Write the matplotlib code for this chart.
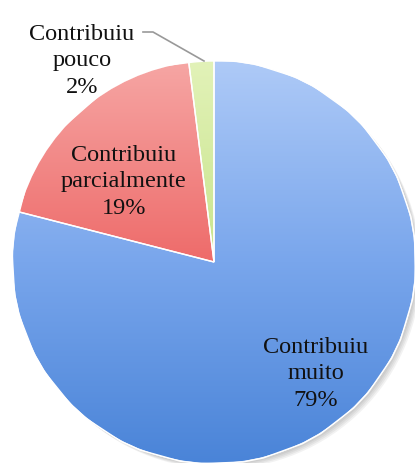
import numpy as np
import matplotlib.pyplot as plt
from matplotlib.colors import LinearSegmentedColormap

labels = ['Contribuiu\nmuito', 'Contribuiu\nparcialmente', 'Contribuiu\npouco']
values = [79, 19, 2]
grad_colors = [['#aecaf7', '#79a6ec', '#4a84d8'],
               ['#f6a6a4', '#ee6b6a', '#e04a4a'],
               ['#e2f2b8', '#c8e48c', '#a9cf62']]

W, H = 415, 464
cx, cy, R = 214, 263, 201

fig = plt.figure(figsize=(W / 100, H / 100), dpi=100)
ax = fig.add_axes([0, 0, 1, 1])
ax.axis('off')

# soft shadow
for i in range(4):
    sh = plt.Circle((0.012 + 0.006 * i, -0.012 - 0.006 * i), 1.0, color='#000000',
                    alpha=0.05, lw=0, zorder=0)
    ax.add_patch(sh)

wedges, _ = ax.pie(values, startangle=90, counterclock=False, radius=1.0,
                   colors=[g[1] for g in grad_colors],
                   wedgeprops=dict(edgecolor='white', linewidth=1.0))

grad = np.linspace(0, 1, 256).reshape(-1, 1)
for w, cols in zip(wedges, grad_colors):
    cmap = LinearSegmentedColormap.from_list('g', cols)
    im = ax.imshow(grad, cmap=cmap, extent=[-1, 1, -1, 1], aspect='auto',
                   origin='upper', zorder=2)
    im.set_clip_path(w)
    w.set_zorder(1)
    edge = plt.Polygon(w.get_path().vertices, closed=True, fill=False,
                       edgecolor='white', linewidth=1.0, zorder=3)
    ax.add_patch(edge)
ax.set_xlim(-cx / R, (W - cx) / R)
ax.set_ylim(-(H - cy) / R, cy / R)

font = dict(family='Liberation Serif', fontsize=17.5, ha='center', va='center',
            linespacing=1.33, color='#111111', zorder=5)
pos = [(0.507, -0.552), (-0.448, 0.403), (-0.657, 1.005)]
for lab, v, (x, y) in zip(labels, values, pos):
    ax.text(x, y, f'{lab}\n{v}%', **font)

# leader line for small slice
ax.plot([(143 - cx) / R, (153 - cx) / R, (204 - cx) / R],
        [(cy - 33) / R, (cy - 33) / R, (cy - 62) / R],
        color='#999999', lw=1.2, zorder=6)

fig.savefig('out.png', dpi=100, facecolor='white')
